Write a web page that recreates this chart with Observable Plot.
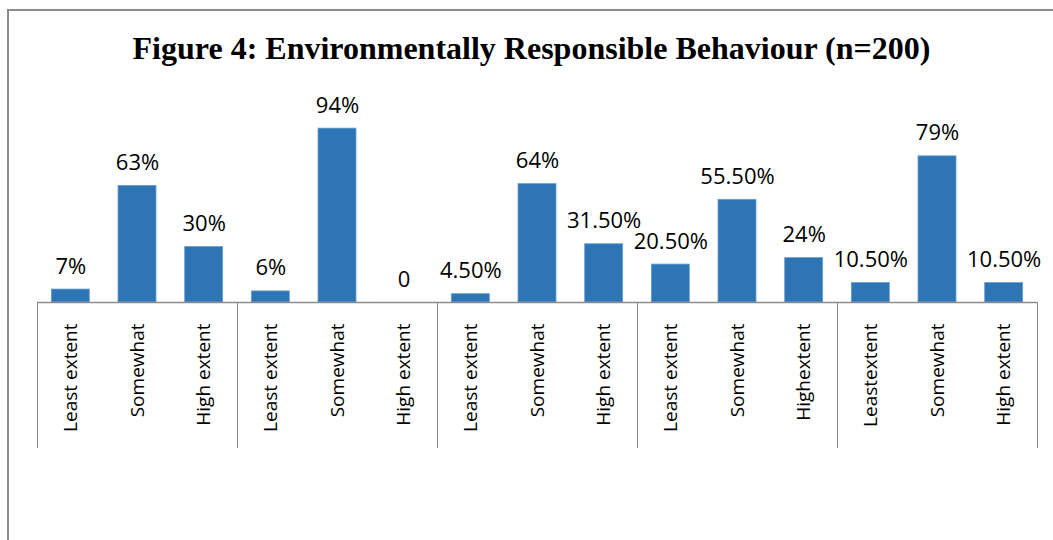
<!DOCTYPE html>
<html>
<head>
<meta charset="utf-8">
<script src="https://cdn.jsdelivr.net/npm/d3@7"></script>
<script src="https://cdn.jsdelivr.net/npm/@observablehq/plot@0.6"></script>
<style>
  html, body { margin: 0; padding: 0; background: #fff; }
  #wrap { position: relative; width: 1053px; height: 540px; overflow: hidden; background: #fff; }
  #frame { position: absolute; left: 7px; top: 9px; width: 1060px; height: 600px;
           border-top: 2px solid #8c8c8c; border-left: 2px solid #8c8c8c; box-sizing: border-box; }
  #title { position: absolute; left: 0; width: 1063px; top: 30px; text-align: center;
           font-family: "Liberation Serif", "Times New Roman", serif; font-weight: bold;
           font-size: 32px; color: #000; white-space: nowrap; }
  #chart { position: absolute; left: 0; top: 0; }
</style>
</head>
<body>
<div id="wrap">
  <div id="frame"></div>
  <div id="title">Figure 4: Environmentally Responsible Behaviour (n=200)</div>
  <div id="chart"></div>
</div>
<script>
// Data
const groups = [1, 2, 3, 4, 5];
const categories = [
  "Least extent", "Somewhat", "High extent",
  "Least extent", "Somewhat", "High extent",
  "Least extent", "Somewhat", "High extent",
  "Least extent", "Somewhat", "Highextent",
  "Leastextent", "Somewhat", "High extent"
];
const values = [7, 63, 30, 6, 94, 0, 4.5, 64, 31.5, 20.5, 55.5, 24, 10.5, 79, 10.5];
const valueLabels = ["7%", "63%", "30%", "6%", "94%", "0", "4.50%", "64%", "31.50%",
                     "20.50%", "55.50%", "24%", "10.50%", "79%", "10.50%"];

const rows = values.map((v, i) => ({
  key: `g${Math.floor(i / 3) + 1}-${i}`,
  group: groups[Math.floor(i / 3)],
  cat: categories[i],
  value: v,
  label: valueLabels[i]
}));
const keys = rows.map(d => d.key);
const catOf = new Map(rows.map(d => [d.key, d.cat]));

const W = 1053, H = 540;
const mL = 37, mR = 16, mT = 117, mB = 238;
const step = (W - mL - mR) / keys.length;

const groupStarts = rows.filter((d, i) => i % 3 === 0);
const lastRow = rows[rows.length - 1];

const plot = Plot.plot({
  width: W,
  height: H,
  marginLeft: mL,
  marginRight: mR,
  marginTop: mT,
  marginBottom: mB,
  style: { fontFamily: "'Open Sans', sans-serif", background: "transparent", overflow: "visible" },
  x: { domain: keys, paddingInner: 0.43, paddingOuter: 0.215, align: 0.5, round: false },
  y: { domain: [0, 100], axis: null },
  marks: [
    Plot.barY(rows, { x: "key", y: "value", fill: "#2e75b6", stroke: "#6a9fd0", strokeWidth: 0.8 }),
    Plot.text(rows, { x: "key", y: "value", text: "label", dy: -16, lineAnchor: "bottom",
                      fontSize: 22, fill: "#000" }),
    Plot.ruleY([0], { stroke: "#8c8c8c", strokeWidth: 1.5 }),
    Plot.ruleX(groupStarts, { x: "key", y1: 0, y2: -79, dx: -step / 2, stroke: "#8c8c8c", strokeWidth: 1 }),
    Plot.ruleX([lastRow], { x: "key", y1: 0, y2: -79, dx: step / 2, stroke: "#8c8c8c", strokeWidth: 1 }),
    Plot.axisX({ tickSize: 0, tickPadding: 21, tickRotate: -90, fontSize: 19, fill: "#000",
                 tickFormat: k => catOf.get(k), label: null })
  ]
});
document.getElementById("chart").appendChild(plot);
</script>
</body>
</html>
